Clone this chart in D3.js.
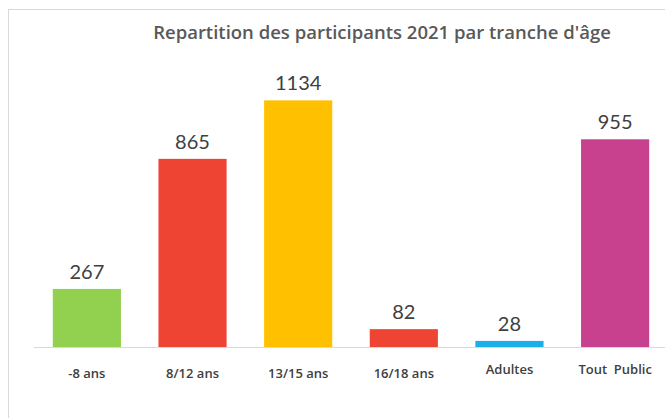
<!DOCTYPE html>
<html>
<head>
<meta charset="utf-8">
<script src="https://cdn.jsdelivr.net/npm/d3@7"></script>
<style>
  body { margin: 0; background: #fff; }
  svg { display: block; }
</style>
</head>
<body>
<svg id="chart" width="665" height="418"></svg>
<script>
const categories = ["-8 ans", "8/12 ans", "13/15 ans", "16/18 ans", "Adultes", "Tout  Public"];
const values = [267, 865, 1134, 82, 28, 955];
const barColors = ["#92D050", "#EE4433", "#FFC000", "#EE4433", "#1AAEEA", "#C7418E"];
const title = "Repartition des participants 2021 par tranche d'âge";

const svg = d3.select("#chart");
const width = +svg.attr("width");
const height = +svg.attr("height");
const baseY = 347;

// chart frame (left and top edges visible)
svg.append("rect")
  .attr("x", 8.5).attr("y", 9.5)
  .attr("width", 700).attr("height", 500)
  .attr("fill", "none")
  .attr("stroke", "#d9d9d9")
  .attr("stroke-width", 1);

const x = d3.scaleBand()
  .domain(categories)
  .range([34, 668])
  .paddingInner(0.355)
  .paddingOuter(0.178);

const y = d3.scaleLinear()
  .domain([0, 1200])
  .range([baseY, 86]);

svg.append("text")
  .attr("x", 382)
  .attr("y", 39)
  .attr("text-anchor", "middle")
  .attr("font-family", "'Open Sans', Lato, sans-serif")
  .attr("font-weight", 600)
  .attr("font-size", 18.5)
  .attr("fill", "#595959")
  .text(title);

svg.selectAll(".bar")
  .data(values)
  .enter()
  .append("rect")
  .attr("class", "bar")
  .attr("x", (d, i) => x(categories[i]))
  .attr("y", (d) => y(d))
  .attr("width", x.bandwidth())
  .attr("height", (d) => baseY - y(d))
  .attr("fill", (d, i) => barColors[i]);

// baseline axis
svg.append("line")
  .attr("x1", 34).attr("x2", 665)
  .attr("y1", baseY + 0.5).attr("y2", baseY + 0.5)
  .attr("stroke", "#d9d9d9")
  .attr("stroke-width", 1);

svg.selectAll(".value")
  .data(values)
  .enter()
  .append("text")
  .attr("class", "value")
  .attr("x", (d, i) => x(categories[i]) + x.bandwidth() / 2)
  .attr("y", (d) => y(d) - 10)
  .attr("text-anchor", "middle")
  .attr("font-family", "Lato, 'Open Sans', sans-serif")
  .attr("font-size", 20)
  .attr("fill", "#404040")
  .text((d) => d);

const xAxis = d3.axisBottom(x).tickSize(0).tickPadding(0);
const gx = svg.append("g")
  .attr("transform", `translate(0, ${baseY})`)
  .call(xAxis);
gx.select(".domain").remove();
gx.selectAll("text")
  .attr("dy", 0)
  .attr("y", (d, i) => i >= 4 ? 27 : 31)
  .attr("font-family", "'Open Sans', Lato, sans-serif")
  .attr("font-size", 13)
  .attr("font-weight", 600)
  .attr("fill", "#404040")
  .style("white-space", "pre");
</script>
</body>
</html>
